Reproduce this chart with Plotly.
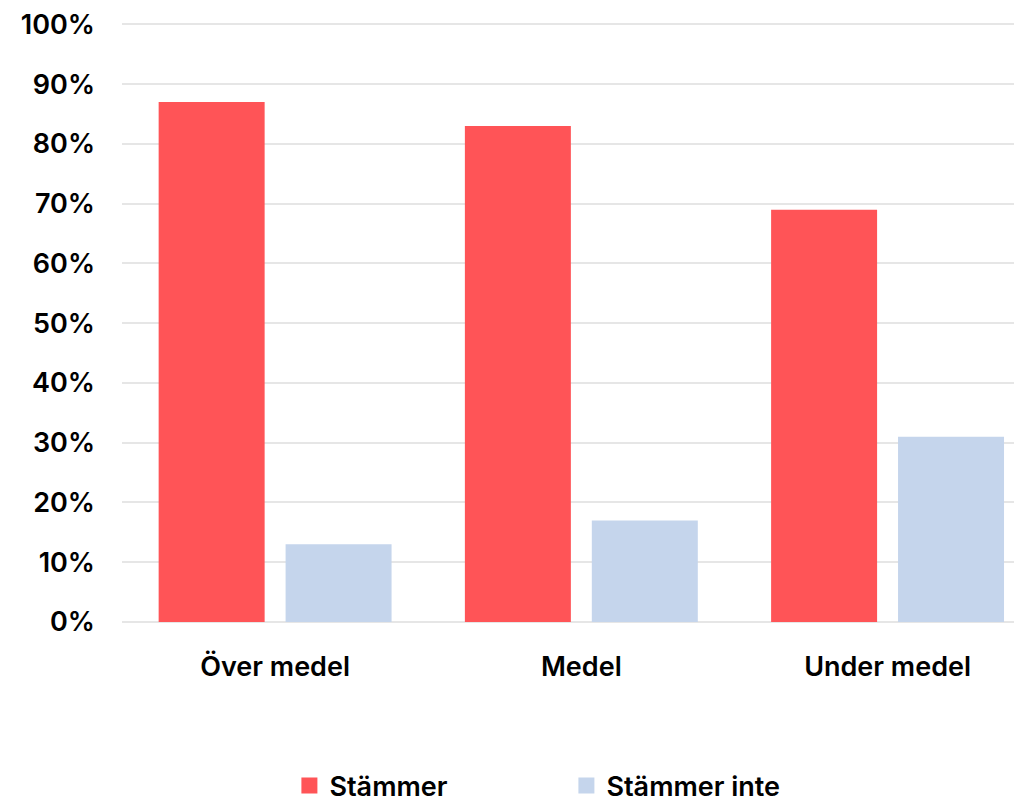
import plotly.graph_objects as go

categories = ["Över medel", "Medel", "Under medel"]
stammer = [0.87, 0.83, 0.69]
stammer_inte = [0.13, 0.17, 0.31]
series_names = ["Stämmer", "Stämmer inte"]
colors = ["#FF5457", "#C5D5EC"]
y_ticks = [i / 10 for i in range(11)]
y_tick_labels = [f"{i*10}%" for i in range(11)]

FONT = "Inter"
TF = dict(family=FONT, size=27, color="#000000", weight=600)

fig = go.Figure()
for name, vals, col in zip(series_names, [stammer, stammer_inte], colors):
    fig.add_trace(go.Bar(
        x=categories, y=vals, name=name, marker_color=col,
        marker_line_width=0, showlegend=False,
    ))
    fig.add_trace(go.Scatter(
        x=[None], y=[None], mode="markers", name=name,
        marker=dict(symbol="square", size=18, color=col),
        showlegend=True,
    ))

fig.update_layout(
    width=1022, height=804,
    margin=dict(l=114, r=8, t=14, b=190, autoexpand=False),
    paper_bgcolor="white", plot_bgcolor="white",
    barmode="group", bargap=0.171, bargroupgap=0.165,
    font=TF,
    legend=dict(
        orientation="h", x=0.186, xanchor="left", y=-0.2733, yanchor="middle",
        font=TF, entrywidth=232,
    ),
    xaxis=dict(
        range=[-0.5, 2.439],
        showgrid=False, showline=False, zeroline=False,
        tickfont=TF, ticklabelstandoff=26,
    ),
    yaxis=dict(
        range=[0, 1.004], tickvals=y_ticks, ticktext=y_tick_labels,
        showgrid=True, gridcolor="#E6E6E6", gridwidth=2,
        zeroline=True, zerolinecolor="#E6E6E6", zerolinewidth=2,
        showline=False, ticklabeloverflow="allow",
        tickfont=TF, ticklabelstandoff=26,
    ),
)

fig.write_html("out.html")
